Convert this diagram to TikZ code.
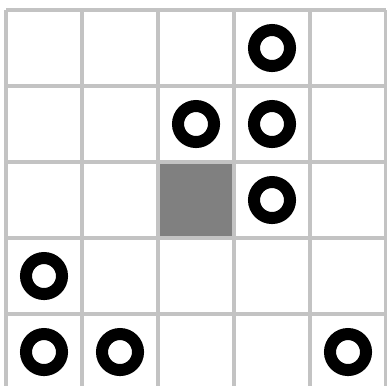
\documentclass[tikz,border=0pt]{standalone}
\definecolor{gridgray}{RGB}{195,195,195}
\definecolor{cellgray}{RGB}{128,128,128}
\begin{document}
\begin{tikzpicture}[x=1cm,y=1cm]
\clip (-0.079,0.066) rectangle (5.013,5.132);
\fill[white] (-0.079,0.066) rectangle (5.013,5.132);
\fill[cellgray] (2,2) rectangle (3,3);
\draw[gridgray,line width=0.0526cm] (0,0) grid (5,5);
\foreach \c/\r in {4/1,3/2,4/2,4/3,1/4,1/5,2/5,5/5} \draw[black,line width=0.158cm] (\c-0.5,5.5-\r) circle (0.237);
\end{tikzpicture}
\end{document}
